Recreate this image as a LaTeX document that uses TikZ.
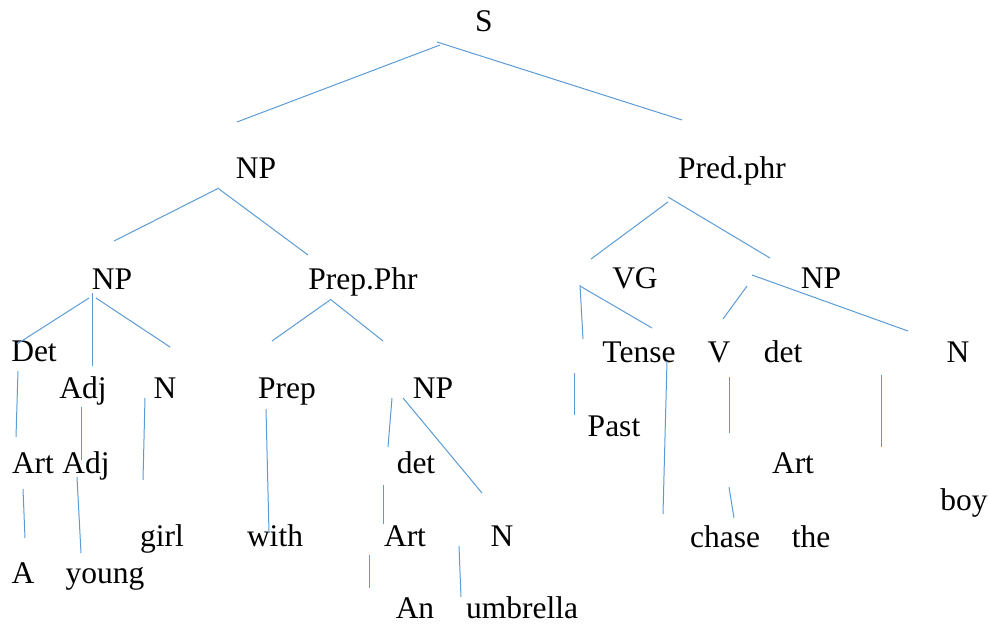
\documentclass[tikz,border=0pt]{standalone}
\usepackage{fontspec}
\setmainfont{Liberation Serif}
\definecolor{branchblue}{HTML}{5B9BD5}
\tikzset{
  lbl/.style={anchor=base, inner sep=0pt, outer sep=0pt, font=\fontsize{31.5}{38}\selectfont},
  branch/.style={draw=branchblue, line width=1pt}
}
\begin{document}
\begin{tikzpicture}[x=1pt,y=-1pt]
\useasboundingbox (0,0) rectangle (989,624);

% ---- category and word labels (positioned on their baselines) ----
\node[lbl] (s)        at (484,31)  {S};
\node[lbl] (np)       at (256,178) {NP};
\node[lbl] (pred)     at (732,178) {Pred.phr};
\node[lbl] (npa)      at (112,289) {NP};
\node[lbl] (pp)       at (363,289) {Prep.Phr};
\node[lbl] (vg)       at (635,288) {VG};
\node[lbl] (npb)      at (821,288) {NP};
\node[lbl] (det)      at (34,361)  {Det};
\node[lbl] (tense)    at (639,362) {Tense};
\node[lbl] (v)        at (719,362) {V};
\node[lbl] (detb)     at (783,362) {det};
\node[lbl] (nb)       at (958,362) {N};
\node[lbl] (adj)      at (83,398)  {Adj};
\node[lbl] (na)       at (165,398) {N};
\node[lbl] (prep)     at (287,398) {Prep};
\node[lbl] (npc)      at (433,398) {NP};
\node[lbl] (past)     at (614,436) {Past};
\node[lbl] (art)      at (33,473)  {Art};
\node[lbl] (adjb)     at (86,473)  {Adj};
\node[lbl] (detc)     at (416,473) {det};
\node[lbl] (artb)     at (793,473) {Art};
\node[lbl] (boy)      at (964,510) {boy};
\node[lbl] (girl)     at (162,546) {girl};
\node[lbl] (with)     at (275,546) {with};
\node[lbl] (artc)     at (405,546) {Art};
\node[lbl] (nc)       at (502,546) {N};
\node[lbl] (chase)    at (725,547) {chase};
\node[lbl] (the)      at (811,547) {the};
\node[lbl] (a)        at (23,583)  {A};
\node[lbl] (young)    at (105,583) {young};
\node[lbl] (an)       at (415,618) {An};
\node[lbl] (umbrella) at (522,618) {umbrella};

% ---- branch end points ----
\coordinate (b1a) at (440,45);  \coordinate (b1b) at (237,122);
\coordinate (b2a) at (437,42);  \coordinate (b2b) at (682,120);
\coordinate (b3a) at (219,188); \coordinate (b3b) at (114,241);
\coordinate (b4a) at (219,189); \coordinate (b4b) at (308,255);
\coordinate (b5a) at (668,197); \coordinate (b5b) at (770,258);
\coordinate (b6a) at (668,202); \coordinate (b6b) at (591,259);
\coordinate (b7a) at (89,298);  \coordinate (b7b) at (17,344);
\coordinate (b8a) at (92,293);  \coordinate (b8b) at (92,366);
\coordinate (b9a) at (96,298);  \coordinate (b9b) at (170,347);
\coordinate (b10a) at (330,300); \coordinate (b10b) at (272,341);
\coordinate (b11a) at (330,299); \coordinate (b11b) at (383,341);
\coordinate (b12a) at (580,285); \coordinate (b12b) at (583,339);
\coordinate (b13a) at (580,286); \coordinate (b13b) at (652,328);
\coordinate (b14a) at (747,286); \coordinate (b14b) at (723,319);
\coordinate (b15a) at (752,275); \coordinate (b15b) at (908,331);
\coordinate (b16a) at (18,371);  \coordinate (b16b) at (16,437);
\coordinate (b17a) at (81,407);  \coordinate (b17b) at (81,460);
\coordinate (b18a) at (145,398); \coordinate (b18b) at (143,480);
\coordinate (b19a) at (266,409); \coordinate (b19b) at (269,533);
\coordinate (b20a) at (392,398); \coordinate (b20b) at (388,447);
\coordinate (b21a) at (403,398); \coordinate (b21b) at (482,493);
\coordinate (b22a) at (574,373); \coordinate (b22b) at (574,415);
\coordinate (b23a) at (667,361); \coordinate (b23b) at (663,514);
\coordinate (b24a) at (729,377); \coordinate (b24b) at (729,433);
\coordinate (b25a) at (729,487); \coordinate (b25b) at (734,518);
\coordinate (b26a) at (881,375); \coordinate (b26b) at (881,447);
\coordinate (b27a) at (23,489);  \coordinate (b27b) at (25,538);
\coordinate (b28a) at (77,477);  \coordinate (b28b) at (81,553);
\coordinate (b29a) at (383,485); \coordinate (b29b) at (383,524);
\coordinate (b30a) at (369,555); \coordinate (b30b) at (369,588);
\coordinate (b31a) at (459,546); \coordinate (b31b) at (461,597);

% ---- branches ----
\foreach \i in {1,...,31} {
  \draw[branch] (b\i a) -- (b\i b);
}
\end{tikzpicture}
\end{document}
